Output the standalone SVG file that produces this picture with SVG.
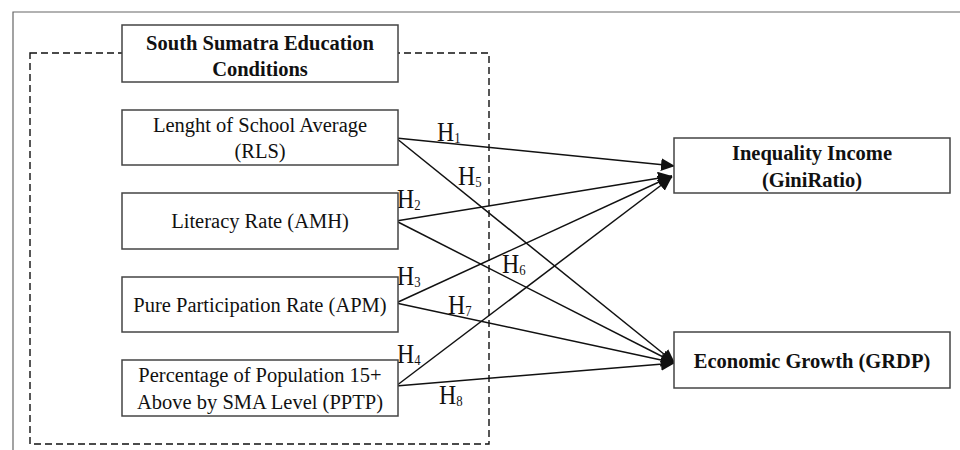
<svg xmlns="http://www.w3.org/2000/svg" width="960" height="450" viewBox="0 0 960 450">
<defs>
<style>
.frame{fill:none;stroke:#666;stroke-width:1.2}
.dash{fill:none;stroke:#111;stroke-width:1.4;stroke-dasharray:7 4}
.box{fill:#fff;stroke:#444;stroke-width:1.5}
.t{font-family:"Liberation Serif","Times New Roman",serif;font-size:20.5px;fill:#111;text-anchor:middle}
.b{font-weight:bold}
.h{font-family:"Liberation Serif","Times New Roman",serif;font-size:28px;fill:#111}
.sub{font-size:15px}
.c{stroke:#111;stroke-width:1.5;fill:none;marker-end:url(#ah)}
</style>
<marker id="ah" markerUnits="userSpaceOnUse" markerWidth="15" markerHeight="14" refX="14" refY="6.5" orient="auto">
<path d="M0,0 L14,6.5 L0,13 Z" fill="#111"/>
</marker>
</defs>
<rect width="960" height="450" fill="#fff"/>
<path class="frame" d="M13,450 V12 H960"/>
<rect class="dash" x="30" y="53" width="459" height="391"/>
<g id="connectors">
<line class="c" x1="396" y1="138" x2="675" y2="166"/>
<line class="c" x1="396" y1="138" x2="675" y2="363"/>
<line class="c" x1="396" y1="221" x2="672" y2="176"/>
<line class="c" x1="396" y1="221" x2="675" y2="363"/>
<line class="c" x1="396" y1="303" x2="672" y2="176"/>
<line class="c" x1="396" y1="303" x2="675" y2="363"/>
<line class="c" x1="396" y1="386" x2="672" y2="177"/>
<line class="c" x1="396" y1="386" x2="675" y2="363"/>
</g>
<g id="labels">
<text class="h" transform="translate(437,141) scale(0.85,1)">H<tspan class="sub" dy="2">1</tspan></text>
<text class="h" transform="translate(458,185) scale(0.85,1)">H<tspan class="sub" dy="2">5</tspan></text>
<text class="h" transform="translate(397,208) scale(0.85,1)">H<tspan class="sub" dy="2">2</tspan></text>
<text class="h" transform="translate(397,285) scale(0.85,1)">H<tspan class="sub" dy="2">3</tspan></text>
<text class="h" transform="translate(502,273) scale(0.85,1)">H<tspan class="sub" dy="2">6</tspan></text>
<text class="h" transform="translate(448,314) scale(0.85,1)">H<tspan class="sub" dy="2">7</tspan></text>
<text class="h" transform="translate(397,363) scale(0.85,1)">H<tspan class="sub" dy="2">4</tspan></text>
<text class="h" transform="translate(439,404) scale(0.85,1)">H<tspan class="sub" dy="2">8</tspan></text>
</g>
<g id="title">
<rect class="box" x="122" y="25" width="276" height="57"/>
<text class="t b" x="260" y="50">South Sumatra Education</text>
<text class="t b" x="260" y="76">Conditions</text>
</g>
<g id="rls">
<rect class="box" x="122" y="110" width="276" height="55"/>
<text class="t" x="260" y="132">Lenght of School Average</text>
<text class="t" x="260" y="158">(RLS)</text>
</g>
<g id="amh">
<rect class="box" x="122" y="193" width="276" height="56"/>
<text class="t" x="260" y="228">Literacy Rate (AMH)</text>
</g>
<g id="apm">
<rect class="box" x="122" y="277" width="276" height="55"/>
<text class="t" x="260" y="311.5">Pure Participation Rate (APM)</text>
</g>
<g id="pptp">
<rect class="box" x="122" y="360" width="276" height="56"/>
<text class="t" x="260" y="382">Percentage of Population 15+</text>
<text class="t" x="260" y="409">Above by SMA Level (PPTP)</text>
</g>
<g id="gini">
<rect class="box" x="674" y="138" width="276" height="55"/>
<text class="t b" x="812" y="160">Inequality Income</text>
<text class="t b" x="812" y="187">(GiniRatio)</text>
</g>
<g id="grdp">
<rect class="box" x="674" y="332" width="276" height="56"/>
<text class="t b" x="812" y="368">Economic Growth (GRDP)</text>
</g>
</svg>
